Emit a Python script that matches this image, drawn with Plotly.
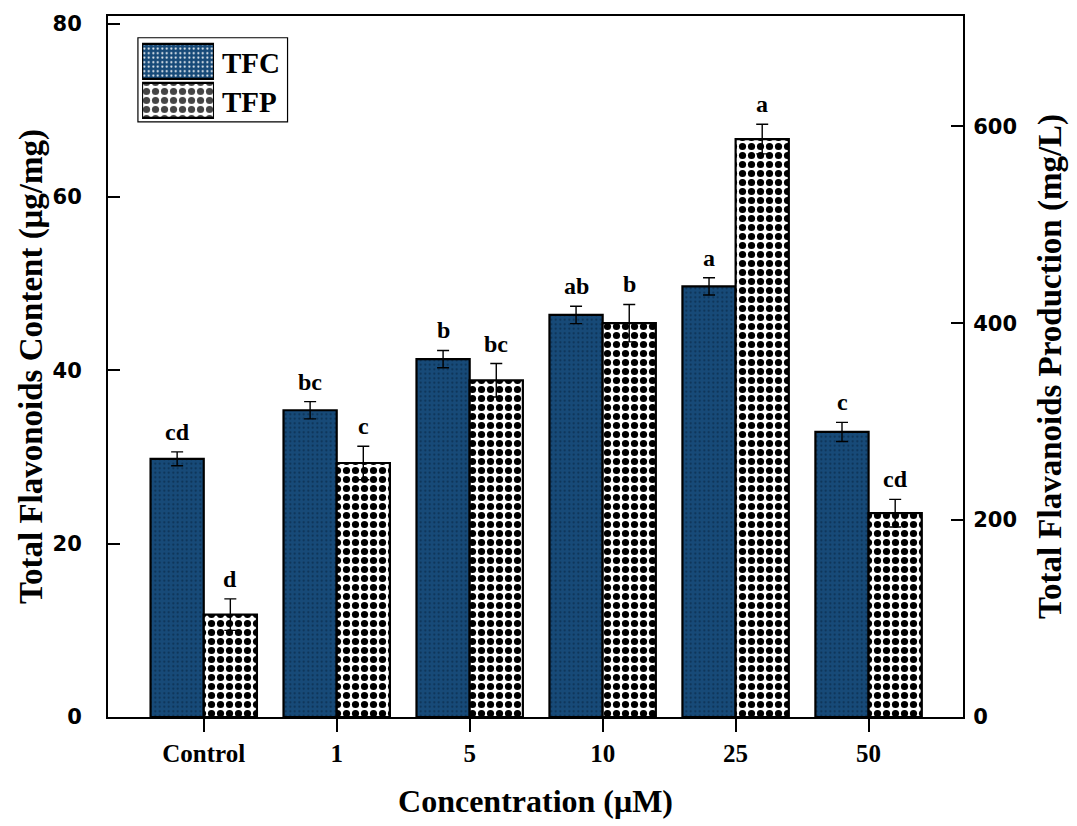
import plotly.graph_objects as go

categories = ["Control", "1", "5", "10", "25", "50"]
tfc = [29.8, 35.4, 41.3, 46.4, 49.7, 32.9]
tfc_err = [0.8, 1.0, 1.0, 1.0, 1.0, 1.1]
tfp = [104, 258, 342, 400, 587, 207]
tfp_err = [16, 17, 17, 19, 15, 14]
tfc_letters = ["cd", "bc", "b", "ab", "a", "c"]
tfp_letters = ["d", "c", "bc", "b", "a", "cd"]
series_names = ["TFC", "TFP"]

serif = "Liberation Serif, Times New Roman, serif"
sans = "DejaVu Sans, Arial, sans-serif"
blue = "#174a78"
dot_blue = "#0c3052"
tfc_pattern = dict(shape=".", fgcolor=dot_blue, fgopacity=1, size=4.5, solidity=0.16)
tfp_pattern = dict(shape=".", fgcolor="black", bgcolor="white", fgopacity=1, size=9, solidity=0.5)

fig = go.Figure()
fig.add_trace(go.Bar(
    x=categories, y=tfc, name="TFC", yaxis="y", offsetgroup="1", showlegend=False,
    marker=dict(color=blue, line=dict(color="black", width=2.2), pattern=tfc_pattern),
    error_y=dict(type="data", array=tfc_err, color="black", thickness=1.4, width=6),
))
fig.add_trace(go.Bar(
    x=categories, y=tfp, name="TFP", yaxis="y2", offsetgroup="2", showlegend=False,
    marker=dict(color="white", line=dict(color="black", width=2.2), pattern=tfp_pattern),
    error_y=dict(type="data", array=tfp_err, color="black", thickness=1.4, width=6),
))

# legend drawn as an inset of two bars
fig.add_trace(go.Bar(
    y=series_names, x=[1, 1], orientation="h", xaxis="x3", yaxis="y3", showlegend=False,
    width=[0.9, 0.9], hoverinfo="skip",
    marker=dict(color=[blue, "white"], line=dict(color="black", width=2.2),
                pattern=dict(shape=[".", "."], fgcolor=[dot_blue, "black"], fgopacity=1,
                             bgcolor=[blue, "white"], size=[4.5, 9], solidity=[0.16, 0.5])),
))

letter_font = dict(family=serif, size=24, color="black", weight="bold")
annotations = []
for i, (v, e, t) in enumerate(zip(tfc, tfc_err, tfc_letters)):
    annotations.append(dict(x=i, y=v + e, yref="y", xref="x", text=t, showarrow=False,
                            xshift=-26.5, yanchor="bottom", yshift=5, font=letter_font))
for i, (v, e, t) in enumerate(zip(tfp, tfp_err, tfp_letters)):
    annotations.append(dict(x=i, y=v + e, yref="y2", xref="x", text=t, showarrow=False,
                            xshift=26.5, yanchor="bottom", yshift=5, font=letter_font))
for name, yy in zip(series_names, [0.9335, 0.8772]):
    annotations.append(dict(x=0.131, y=yy, xref="paper", yref="paper", text=name,
                            showarrow=False, xanchor="left", yanchor="middle",
                            font=dict(family=serif, size=29, color="black", weight="bold")))

fig.update_layout(
    width=1077, height=826,
    margin=dict(l=108, r=114, t=16, b=109),
    plot_bgcolor="white", paper_bgcolor="white",
    barmode="group", bargap=0.2, bargroupgap=0,
    annotations=annotations,
    showlegend=False,
    shapes=[dict(type="rect", xref="paper", yref="paper", x0=0.035, x1=0.21, y0=0.849, y1=0.969,
                 line=dict(color="black", width=1.2), fillcolor="rgba(0,0,0,0)", layer="below")],
    xaxis=dict(
        range=[-0.72, 5.71], showline=True, linecolor="black", linewidth=2, mirror=True,
        ticks="outside", ticklen=13, tickwidth=1.5, tickcolor="black",
        tickfont=dict(family=serif, size=25, color="black", weight="bold"),
        title=dict(text="Concentration (μM)", font=dict(family=serif, size=32, color="black", weight="bold"),
                   standoff=24),
        showgrid=False,
    ),
    yaxis=dict(
        range=[0, 80.9], tickvals=[0, 20, 40, 60, 80], showline=True, linecolor="black",
        linewidth=2, ticks="inside", ticklen=12, tickwidth=1.5, tickcolor="black",
        ticklabelstandoff=20,
        tickfont=dict(family=sans, size=21, color="black", weight="bold"),
        title=dict(text="Total Flavonoids Content (μg/mg)", font=dict(family=serif, size=33, color="black", weight="bold"),
                   standoff=0),
        showgrid=False, zeroline=False,
    ),
    yaxis2=dict(
        range=[0, 712], tickvals=[0, 200, 400, 600], overlaying="y", side="right",
        showline=True, linecolor="black", linewidth=2, ticks="inside", ticklen=12,
        tickwidth=1.5, tickcolor="black", ticklabelstandoff=4,
        tickfont=dict(family=sans, size=21, color="black", weight="bold"),
        title=dict(text="Total Flavanoids Production (mg/L)", font=dict(family=serif, size=33, color="black", weight="bold"),
                   standoff=22),
        showgrid=False, zeroline=False,
    ),
    xaxis3=dict(domain=[0.0398, 0.124], anchor="y3", range=[0, 1], visible=False, fixedrange=True),
    yaxis3=dict(domain=[0.852, 0.963], anchor="x3", range=[-0.5, 1.5], visible=False, fixedrange=True,
                categoryorder="array", categoryarray=["TFP", "TFC"]),
)

fig.write_html("out.html")
